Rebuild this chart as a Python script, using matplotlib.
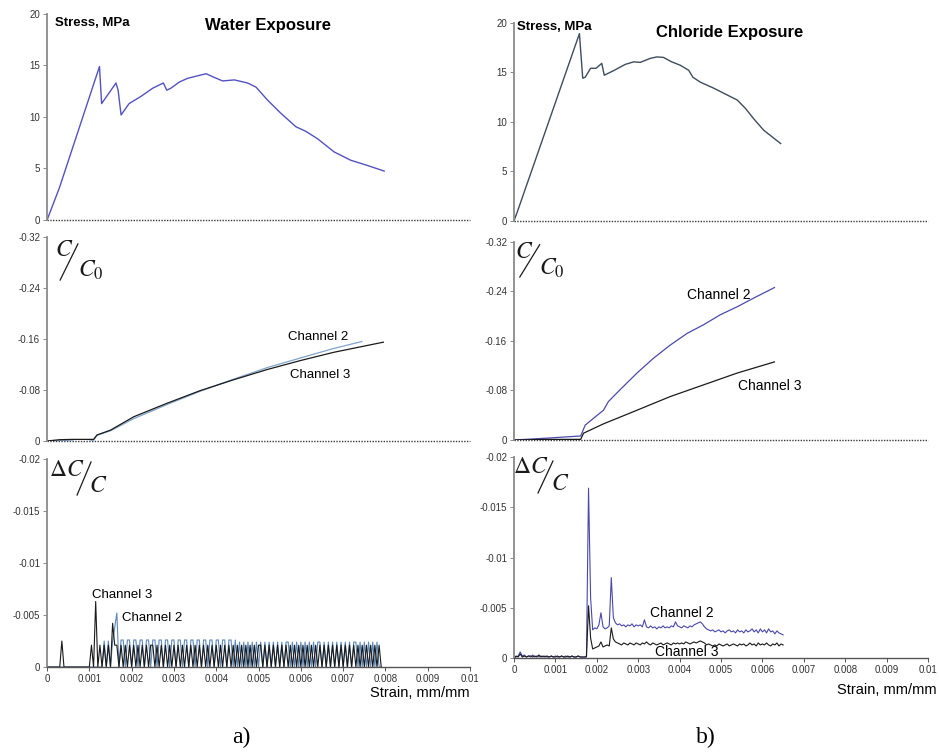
import matplotlib.pyplot as plt
import numpy as np

plt.rcParams["font.family"] = ["Liberation Sans", "DejaVu Sans"]
plt.rcParams["mathtext.fontset"] = "stix"

OUTPUT_PATH = "out.png"

# ---- stress-strain curves -------------------------------------------------
WATER_STRAIN = [0, 0.00029, 0.00124, 0.00129, 0.00163, 0.00168, 0.00175, 0.00194,
                0.00222, 0.0025, 0.00275, 0.00283, 0.00293, 0.00313, 0.00332, 0.00356,
                0.00376, 0.00395, 0.00415, 0.00443, 0.00474, 0.00494, 0.00521, 0.00553,
                0.00588, 0.00612, 0.00639, 0.00679, 0.00718, 0.00757, 0.00797]
WATER_STRESS = [0, 3.1, 14.9, 11.3, 13.3, 12.6, 10.2, 11.3, 12.0, 12.8, 13.3, 12.6,
                12.8, 13.4, 13.75, 14.0, 14.2, 13.85, 13.5, 13.6, 13.3, 12.9, 11.65,
                10.35, 9.06, 8.6, 7.9, 6.6, 5.8, 5.3, 4.75]

CHLORIDE_STRAIN = [0, 0.00008, 0.00158, 0.00166, 0.00172, 0.00185, 0.00198, 0.00212,
                   0.00218, 0.0024, 0.00269, 0.00289, 0.00305, 0.00329, 0.00345, 0.00361,
                   0.00381, 0.00402, 0.00422, 0.00432, 0.0045, 0.00482, 0.00515, 0.00539,
                   0.00559, 0.00579, 0.00603, 0.00644]
CHLORIDE_STRESS = [0, 0.9, 18.9, 14.4, 14.5, 15.4, 15.4, 15.9, 14.7, 15.15, 15.8, 16.05,
                   16.0, 16.4, 16.55, 16.5, 16.05, 15.7, 15.2, 14.5, 14.0, 13.4, 12.7,
                   12.2, 11.35, 10.3, 9.15, 7.8]

# ---- C/C0 -----------------------------------------------------------------
WATER_CH2_STRAIN = [0, 0.0003, 0.0006, 0.0007, 0.0009, 0.0011, 0.00118, 0.0015, 0.00205,
                    0.00283, 0.00362, 0.00441, 0.0052, 0.00598, 0.00677, 0.00744]
WATER_CH2_CC0 = [0, -0.001, 0.0, 0.002, 0.002, -0.001, -0.009, -0.016, -0.035, -0.057,
                 -0.078, -0.097, -0.115, -0.130, -0.145, -0.156]
WATER_CH3_STRAIN = [0, 0.0003, 0.0006, 0.0009, 0.0011, 0.00118, 0.0015, 0.00205, 0.00283,
                    0.00362, 0.00441, 0.0052, 0.00598, 0.00677, 0.00795]
WATER_CH3_CC0 = [0, -0.002, -0.0025, -0.0025, -0.0025, -0.0094, -0.017, -0.038, -0.059,
                 -0.079, -0.096, -0.112, -0.126, -0.139, -0.155]

CHLORIDE_CH2_STRAIN = [0, 0.0008, 0.00161, 0.00172, 0.00192, 0.00216, 0.00228, 0.00256,
                       0.00297, 0.00337, 0.00377, 0.00418, 0.00458, 0.00498, 0.00539,
                       0.00579, 0.00629]
CHLORIDE_CH2_CC0 = [0, -0.003, -0.0065, -0.024, -0.035, -0.048, -0.062, -0.081, -0.108,
                    -0.132, -0.153, -0.172, -0.186, -0.202, -0.215, -0.229, -0.246]
CHLORIDE_CH3_STRAIN = [0, 0.0008, 0.00161, 0.00168, 0.00216, 0.00297, 0.00377, 0.00458,
                       0.00539, 0.00629]
CHLORIDE_CH3_CC0 = [0, -0.001, -0.001, -0.011, -0.026, -0.048, -0.070, -0.089, -0.108,
                    -0.126]

# ---- dC/C, logged every 0.00005 strain, values in units of 1e-4 ------------
DCC_STEP = 0.00005
WATER_CH3_DCC = [
    0, 0, 0, 0, 0, 0, 0, -25, 0, 0,
    0, 0, 0, 0, 0, 0, 0, 0, 0, 0,
    0, -21, 0, -63, 0, -21, 0, -21, 0, -21,
    0, -42, -21, -21, 0, -21, 0, -21, 0, -21,
    0, -21, 0, -21, 0, -21, 0, -21, 0, -21,
    -21, 0, -21, 0, -21, 0, -21, 0, -21, 0,
    -21, 0, -21, 0, -21, 0, -21, 0, -21, 0,
    -21, 0, -21, 0, -21, 0, -21, 0, -21, 0,
    -21, 0, -21, 0, -21, 0, -21, 0, -21, 0,
    -21, 0, -21, 0, -21, 0, -21, 0, -21, 0,
    -21, -21, 0, -21, 0, -21, 0, -21, 0, -21,
    0, -21, 0, -21, 0, -21, 0, -21, 0, -21,
    0, -21, 0, -21, 0, -21, 0, -21, 0, -21,
    0, -21, 0, -21, 0, -21, 0, -21, 0, -21,
    0, -21, 0, -21, 0, -21, 0, -21, 0, -21,
    0, -21, 0, -21, 0, -21, 0, -21, 0,
]
WATER_CH2_DCC = [
    0, 0, 0, 0, 0, 0, 0, 0, 0, 0,
    0, 0, 0, 0, 0, 0, 0, 0, 0, 0,
    0, 0, 0, 0, 0, 0, 0, -25, 0, -25,
    0, -25, -38, -52, 0, -26, -26, 0, -26, -26,
    0, -26, -26, 0, -26, -26, 0, -26, -26, 0,
    -26, -26, 0, -26, -26, 0, -26, -26, 0, -26,
    -26, 0, -26, -26, 0, -26, -26, 0, -26, -26,
    0, -26, -26, 0, -26, -26, 0, -26, -26, 0,
    -26, -26, 0, -26, -26, 0, -26, -26, 0, -26,
    0, -24, 0, -24, 0, -24, 0, -24, 0, -24,
    0, -24, 0, -24, 0, -24, 0, -24, 0, -24,
    0, -24, 0, -24, -24, 0, -24, 0, -24, 0,
    -24, 0, -24, 0, -24, 0, -24, 0, -24, -24,
    0, -24, 0, -24, 0, -24, 0, -24, 0, -24,
    0, -24, 0, -24, 0, -24, -24, 0, -24, 0,
    -24, 0, -24, 0, -24, 0, -24, 0, 0,
]
CHLORIDE_CH2_DCC = [
    0, -1, -2, -6, -2, -3, -1, -2, -1, -3,
    -1, -2, -1, -2, -1, -2, -1, -1, -2, -1,
    -2, -1, -1, -2, -1, -2, -1, -1, -2, -1,
    -1, -2, -1, -1, -1, -2, -169, -60, -28, -30,
    -29, -33, -45, -31, -29, -30, -32, -80, -40, -35,
    -33, -34, -32, -33, -31, -33, -32, -34, -31, -33,
    -32, -33, -31, -38, -31, -30, -32, -30, -31, -29,
    -31, -30, -32, -30, -31, -30, -32, -31, -36, -32,
    -31, -30, -32, -31, -30, -32, -31, -33, -34, -35,
    -36, -34, -31, -29, -28, -27, -28, -26, -27, -28,
    -26, -27, -25, -27, -28, -26, -27, -25, -28, -26,
    -27, -25, -28, -26, -27, -29, -26, -28, -25, -29,
    -26, -28, -25, -29, -26, -27, -24, -27, -25, -24,
    -23,
]
CHLORIDE_CH3_DCC = [
    0, -2, -1, -4, -1, -2, -1, -2, -2, -1,
    -2, -1, -3, -1, -2, -1, -2, -1, -2, -1,
    -1, -2, -1, -2, -1, -1, -2, -1, -2, -1,
    -1, -2, -1, -1, -1, -1, -52, -20, -9, -10,
    -11, -12, -16, -11, -12, -13, -12, -30, -19, -16,
    -15, -14, -13, -15, -14, -13, -15, -14, -13, -15,
    -14, -13, -15, -14, -16, -14, -13, -15, -14, -13,
    -14, -15, -13, -14, -15, -14, -13, -15, -14, -15,
    -14, -15, -14, -16, -15, -14, -15, -16, -15, -16,
    -17, -16, -15, -13, -14, -13, -12, -13, -12, -14,
    -13, -12, -13, -14, -12, -13, -14, -13, -12, -14,
    -13, -14, -12, -13, -15, -13, -14, -12, -15, -13,
    -14, -13, -15, -13, -12, -14, -13, -15, -12, -14,
    -13,
]

STRAIN_TICKS = [0, 0.001, 0.002, 0.003, 0.004, 0.005, 0.006, 0.007, 0.008, 0.009, 0.01]
STRAIN_LABELS = ["0", "0.001", "0.002", "0.003", "0.004", "0.005", "0.006", "0.007",
                 "0.008", "0.009", "0.01"]
STRESS_TICKS = [0, 5, 10, 15, 20]
CC0_TICKS = [0, -0.08, -0.16, -0.24, -0.32]
CC0_LABELS = ["0", "-0.08", "-0.16", "-0.24", "-0.32"]
DCC_TICKS = [0, -0.005, -0.01, -0.015, -0.02]
DCC_LABELS = ["0", "-0.005", "-0.01", "-0.015", "-0.02"]

BLACK = "#1a1a1a"
AXIS_GREY = "#8a8a8a"
TICK_TEXT = "#333333"


def dcc_series(values):
    strain = np.arange(len(values)) * DCC_STEP
    return strain, np.asarray(values) * 1e-4


def style_axis(ax, yticks, ylabels, show_strain):
    ax.set_xlim(0, 0.01)
    for side in ("top", "right"):
        ax.spines[side].set_visible(False)
    ax.spines["left"].set_color(AXIS_GREY)
    ax.spines["left"].set_linewidth(1.3)
    ax.set_yticks(yticks)
    ax.set_yticklabels(ylabels)
    ax.tick_params(axis="y", direction="out", length=3, width=0.7, color=AXIS_GREY,
                   labelsize=7, labelcolor=TICK_TEXT, pad=2)
    if show_strain:
        ax.spines["bottom"].set_color("#555555")
        ax.spines["bottom"].set_linewidth(1.0)
        ax.set_xticks(STRAIN_TICKS)
        ax.set_xticklabels(STRAIN_LABELS)
        ax.tick_params(axis="x", direction="out", length=3, width=0.7, color="#555555",
                       labelsize=7, labelcolor=TICK_TEXT, pad=2)
    else:
        ax.spines["bottom"].set_visible(False)
        ax.set_xticks([])
        ax.axhline(0, color="#3a3a3a", linestyle=(0, (1, 1)), linewidth=1.0,
                   clip_on=False, zorder=1)


def slash_fraction(ax, top, bottom, top_xy, slash, bottom_xy):
    ax.text(*top_xy, top, transform=ax.transAxes, ha="center", va="center",
            fontsize=17, color=BLACK)
    ax.plot([slash[0], slash[2]], [slash[1], slash[3]], transform=ax.transAxes,
            color=BLACK, linewidth=0.9, clip_on=False)
    ax.text(*bottom_xy, bottom, transform=ax.transAxes, ha="center", va="center",
            fontsize=17, color=BLACK)


fig = plt.figure(figsize=(9.39, 7.56), dpi=100)

ax_ws = fig.add_axes([0.0501, 0.709, 0.4505, 0.2725])
ax_wc = fig.add_axes([0.0501, 0.4167, 0.4505, 0.2698])
ax_wd = fig.add_axes([0.0501, 0.1177, 0.4505, 0.2751])
ax_cs = fig.add_axes([0.5474, 0.708, 0.4409, 0.2619])
ax_cc = fig.add_axes([0.5474, 0.418, 0.4409, 0.2623])
ax_cd = fig.add_axes([0.5474, 0.1296, 0.4409, 0.2659])

# stress panels
ax_ws.plot(WATER_STRAIN, WATER_STRESS, color="#5252c4", linewidth=1.0)
ax_cs.plot(CHLORIDE_STRAIN, CHLORIDE_STRESS, color="#3d4d5e", linewidth=1.0)
for ax in (ax_ws, ax_cs):
    ax.set_ylim(0, 20)
    style_axis(ax, STRESS_TICKS, [str(t) for t in STRESS_TICKS], False)

ax_ws.text(0.019, 0.956, "Stress, MPa", transform=ax_ws.transAxes, fontsize=9.5,
           fontweight="bold", va="center", ha="left")
ax_ws.text(0.522, 0.942, "Water Exposure", transform=ax_ws.transAxes, fontsize=12,
           fontweight="bold", va="center", ha="center")
ax_cs.text(0.007, 0.978, "Stress, MPa", transform=ax_cs.transAxes, fontsize=9.5,
           fontweight="bold", va="center", ha="left")
ax_cs.text(0.522, 0.953, "Chloride Exposure", transform=ax_cs.transAxes, fontsize=12,
           fontweight="bold", va="center", ha="center")

# C/C0 panels
ax_wc.plot(WATER_CH2_STRAIN, WATER_CH2_CC0, color="#7fa3cc", linewidth=0.9)
ax_wc.plot(WATER_CH3_STRAIN, WATER_CH3_CC0, color=BLACK, linewidth=0.9)
ax_cc.plot(CHLORIDE_CH2_STRAIN, CHLORIDE_CH2_CC0, color="#4b4aae", linewidth=0.9)
ax_cc.plot(CHLORIDE_CH3_STRAIN, CHLORIDE_CH3_CC0, color=BLACK, linewidth=0.9)
for ax in (ax_wc, ax_cc):
    ax.set_ylim(0, -0.32)
    style_axis(ax, CC0_TICKS, CC0_LABELS, False)

ax_wc.text(0.0057, -0.163, "Channel 2", fontsize=9.5, va="center")
ax_wc.text(0.00574, -0.1035, "Channel 3", fontsize=9.5, va="center")
ax_cc.text(0.00418, -0.234, "Channel 2", fontsize=10, va="center")
ax_cc.text(0.00541, -0.087, "Channel 3", fontsize=10, va="center")

slash_fraction(ax_wc, "$C$", "$C_0$", (0.040, 0.936),
               (0.031, 0.789, 0.073, 0.966), (0.104, 0.838))
slash_fraction(ax_cc, "$C$", "$C_0$", (0.024, 0.950),
               (0.014, 0.822, 0.062, 0.985), (0.092, 0.867))

# dC/C panels
x, y = dcc_series(WATER_CH2_DCC)
ax_wd.plot(x, y, color="#5b88bb", linewidth=0.8)
x, y = dcc_series(WATER_CH3_DCC)
ax_wd.plot(x, y, color=BLACK, linewidth=0.8)
x, y = dcc_series(CHLORIDE_CH2_DCC)
ax_cd.plot(x, y, color="#4a48ac", linewidth=0.8)
x, y = dcc_series(CHLORIDE_CH3_DCC)
ax_cd.plot(x, y, color=BLACK, linewidth=0.8)
for ax in (ax_wd, ax_cd):
    ax.set_ylim(0, -0.02)
    style_axis(ax, DCC_TICKS, DCC_LABELS, True)

ax_wd.text(0.00106, -0.0069, "Channel 3", fontsize=9.5, va="center")
ax_wd.text(0.00177, -0.0047, "Channel 2", fontsize=9.5, va="center")
ax_cd.text(0.00329, -0.0045, "Channel 2", fontsize=10, va="center")
ax_cd.text(0.0034, -0.0006, "Channel 3", fontsize=10, va="center")

slash_fraction(ax_wd, r"$\Delta C$", "$C$", (0.047, 0.947),
               (0.071, 0.827, 0.104, 0.986), (0.120, 0.870))
slash_fraction(ax_cd, r"$\Delta C$", "$C$", (0.041, 0.950),
               (0.058, 0.821, 0.094, 0.980), (0.111, 0.866))

ax_wd.text(1.0, -0.125, "Strain, mm/mm", transform=ax_wd.transAxes, fontsize=10.5,
           ha="right", va="center")
ax_cd.text(1.022, -0.159, "Strain, mm/mm", transform=ax_cd.transAxes, fontsize=10.5,
           ha="right", va="center")

fig.text(241 / 939, 1 - 737 / 756, "a)", fontsize=17, family="Liberation Serif",
         ha="center", va="center")
fig.text(706 / 939, 1 - 737 / 756, "b)", fontsize=17, family="Liberation Serif",
         ha="center", va="center")

fig.savefig(OUTPUT_PATH, dpi=100)
plt.close(fig)
